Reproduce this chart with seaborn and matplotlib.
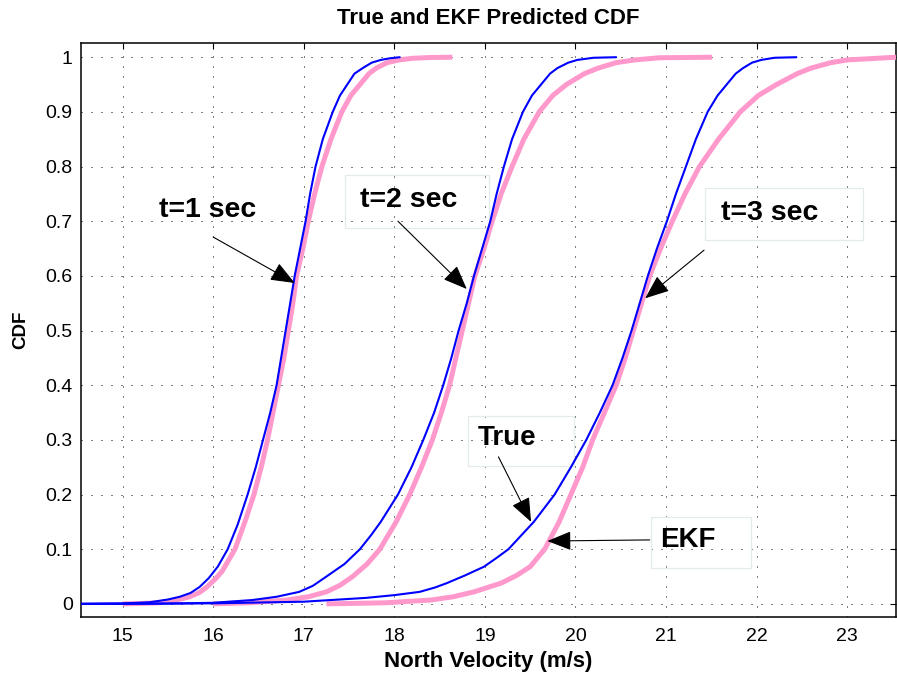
import numpy as np
import pandas as pd
import matplotlib
matplotlib.use("Agg")
import matplotlib.pyplot as plt
from matplotlib.patches import Rectangle
import seaborn as sns

# ---------------- data ----------------
true_t1_v = [14.54, 15.0, 15.3, 15.5, 15.63, 15.75, 15.85, 15.95, 16.05, 16.16, 16.27, 16.38,
             16.47, 16.55, 16.63, 16.70, 16.75, 16.80, 16.85, 16.90, 16.96, 17.02, 17.07,
             17.13, 17.21, 17.32, 17.40, 17.48, 17.56, 17.65, 17.75, 17.85, 17.95, 18.06]
true_t1_cdf = [0.0, 0.0008, 0.003, 0.008, 0.013, 0.02, 0.031, 0.047, 0.068, 0.10, 0.145, 0.20,
               0.25, 0.30, 0.35, 0.40, 0.45, 0.50, 0.55, 0.60, 0.65, 0.70, 0.75,
               0.80, 0.85, 0.90, 0.93, 0.95, 0.97, 0.98, 0.99, 0.995, 0.998, 1.0]

ekf_t1_v = [15.0, 15.2, 15.4, 15.6, 15.74, 15.85, 15.93, 16.02, 16.10, 16.17, 16.24, 16.35,
            16.45, 16.53, 16.60, 16.66, 16.72, 16.78, 16.83, 16.88, 16.92, 16.99, 17.05,
            17.12, 17.20, 17.30, 17.42, 17.52, 17.62, 17.72, 17.80, 17.92, 18.05, 18.20,
            18.40, 18.64]
ekf_t1_cdf = [0.0, 0.0008, 0.002, 0.007, 0.013, 0.021, 0.031, 0.045, 0.06, 0.08, 0.10, 0.15,
              0.20, 0.25, 0.30, 0.35, 0.40, 0.45, 0.50, 0.55, 0.60, 0.65, 0.70,
              0.75, 0.80, 0.85, 0.90, 0.93, 0.95, 0.97, 0.98, 0.99, 0.995, 0.998,
              0.9995, 1.0]

true_t2_v = [14.54, 15.5, 16.0, 16.43, 16.7, 16.95, 17.1, 17.25, 17.45, 17.62, 17.74, 17.85,
             18.04, 18.19, 18.32, 18.44, 18.54, 18.63, 18.71, 18.80, 18.88, 18.97, 19.06,
             19.13, 19.21, 19.30, 19.42, 19.52, 19.62, 19.72, 19.80, 19.92, 20.02, 20.2, 20.45]
true_t2_cdf = [0.0, 0.0005, 0.002, 0.007, 0.013, 0.022, 0.033, 0.05, 0.073, 0.10, 0.125, 0.15,
               0.20, 0.25, 0.30, 0.35, 0.40, 0.45, 0.50, 0.55, 0.60, 0.65, 0.70,
               0.75, 0.80, 0.85, 0.90, 0.93, 0.95, 0.97, 0.98, 0.99, 0.995, 0.999, 1.0]

ekf_t2_v = [16.0, 16.4, 16.81, 17.05, 17.25, 17.40, 17.54, 17.70, 17.84, 18.02, 18.17, 18.30,
            18.42, 18.52, 18.61, 18.68, 18.75, 18.82, 18.89, 18.99, 19.08, 19.18, 19.30,
            19.43, 19.60, 19.75, 19.90, 20.10, 20.25, 20.45, 20.65, 20.93, 21.51]
ekf_t2_cdf = [0.0, 0.002, 0.007, 0.013, 0.022, 0.034, 0.05, 0.073, 0.10, 0.15, 0.20, 0.25,
              0.30, 0.35, 0.40, 0.45, 0.50, 0.55, 0.60, 0.65, 0.70, 0.75, 0.80,
              0.85, 0.90, 0.93, 0.95, 0.97, 0.98, 0.99, 0.995, 0.999, 1.0]

true_t3_v = [14.54, 16.0, 17.0, 17.69, 18.0, 18.28, 18.45, 18.58, 18.78, 18.99, 19.12, 19.26,
             19.54, 19.77, 19.95, 20.12, 20.27, 20.41, 20.52, 20.62, 20.71, 20.80, 20.90,
             21.01, 21.11, 21.22, 21.33, 21.46, 21.57, 21.67, 21.77, 21.85, 21.95, 22.05,
             22.2, 22.44]
true_t3_cdf = [0.0, 0.001, 0.004, 0.011, 0.016, 0.022, 0.030, 0.038, 0.052, 0.068, 0.083, 0.10,
               0.15, 0.20, 0.25, 0.30, 0.35, 0.40, 0.45, 0.50, 0.55, 0.60, 0.65,
               0.70, 0.75, 0.80, 0.85, 0.90, 0.93, 0.95, 0.97, 0.98, 0.99, 0.995,
               0.999, 1.0]

ekf_t3_v = [17.25, 17.9, 18.4, 18.65, 18.88, 19.18, 19.35, 19.50, 19.66, 19.82, 19.95, 20.08,
            20.19, 20.32, 20.45, 20.55, 20.64, 20.73, 20.82, 20.94, 21.07, 21.21, 21.37,
            21.58, 21.82, 22.02, 22.22, 22.45, 22.6, 22.82, 23.0, 23.54]
ekf_t3_cdf = [0.0, 0.002, 0.007, 0.013, 0.022, 0.038, 0.052, 0.068, 0.10, 0.15, 0.20, 0.25,
              0.30, 0.35, 0.40, 0.45, 0.50, 0.55, 0.60, 0.65, 0.70, 0.75, 0.80,
              0.85, 0.90, 0.93, 0.95, 0.97, 0.98, 0.99, 0.995, 1.0]

x_ticks = [15, 16, 17, 18, 19, 20, 21, 22, 23]
y_ticks = [0, 0.1, 0.2, 0.3, 0.4, 0.5, 0.6, 0.7, 0.8, 0.9, 1.0]
y_tick_labels = ["0", "0.1", "0.2", "0.3", "0.4", "0.5", "0.6", "0.7", "0.8", "0.9", "1"]

title = "True and EKF Predicted CDF"
x_label = "North Velocity (m/s)"
y_label = "CDF"

# annotations: text, text position, arrow tail, arrow tip
annotations = [
    ("t=1 sec", (15.94, 0.721), (16.00, 0.671), (16.90, 0.587)),
    ("t=2 sec", (18.16, 0.739), (18.04, 0.700), (18.80, 0.576)),
    ("t=3 sec", (22.14, 0.715), (21.42, 0.647), (20.77, 0.559)),
    ("True",    (19.24, 0.303), (19.15, 0.269), (19.51, 0.150)),
    ("EKF",     (21.24, 0.117), (20.82, 0.117), (19.69, 0.115)),
]
# faint text boxes (x0, x1, y0, y1)
text_boxes = [
    (17.45, 19.05, 0.687, 0.784),
    (21.43, 23.18, 0.665, 0.760),
    (18.81, 19.98, 0.252, 0.344),
    (20.83, 21.94, 0.066, 0.159),
]

# ---------------- styling ----------------
sns.set_theme(style="white")
plt.rcParams["font.family"] = ["Liberation Sans", "DejaVu Sans"]
plt.rcParams["text.color"] = "black"
plt.rcParams["axes.labelcolor"] = "black"
plt.rcParams["xtick.color"] = "black"
plt.rcParams["ytick.color"] = "black"
plt.rcParams["axes.edgecolor"] = "black"
plt.rcParams["axes.linewidth"] = 1.1

blue = "#0000ff"
pink = "#ff99cc"

fig = plt.figure(figsize=(8.97, 6.81), dpi=100)
ax = fig.add_axes([81 / 897, 1 - 617 / 681, (896 - 81) / 897, (617 - 43) / 681])

curves = [
    ("ekf", ekf_t1_v, ekf_t1_cdf), ("ekf", ekf_t2_v, ekf_t2_cdf), ("ekf", ekf_t3_v, ekf_t3_cdf),
    ("true", true_t1_v, true_t1_cdf), ("true", true_t2_v, true_t2_cdf), ("true", true_t3_v, true_t3_cdf),
]
for kind, v, c in curves:
    df = pd.DataFrame({"v": v, "cdf": c})
    if kind == "ekf":
        sns.lineplot(data=df, x="v", y="cdf", ax=ax, color=pink, lw=3.6, sort=False,
                     estimator=None, solid_capstyle="butt", solid_joinstyle="round", zorder=3)
    else:
        sns.lineplot(data=df, x="v", y="cdf", ax=ax, color=blue, lw=1.5, sort=False,
                     estimator=None, solid_joinstyle="round", zorder=4)

ax.set_xlim(14.54, 23.54)
ax.set_ylim(-0.024, 1.026)
ax.set_xticks(x_ticks)
ax.set_xticklabels([str(t) for t in x_ticks])
ax.set_yticks(y_ticks)
ax.set_yticklabels(y_tick_labels)

ax.grid(True, color="black", linestyle=(0, (1, 9)), linewidth=0.72)
ax.tick_params(direction="in", length=4.5, width=0.8, top=True, right=True,
               labelsize=14, colors="black", pad=8)
ax.tick_params(axis="y", pad=6)
for s in ax.spines.values():
    s.set_visible(True)
    s.set_color("black")
    s.set_linewidth(1.1)

ax.set_title(title, fontsize=16, fontweight="bold", pad=14)
ax.set_xlabel(x_label, fontsize=16, fontweight="bold", labelpad=4)
ax.set_ylabel(y_label, fontsize=13.5, fontweight="bold", labelpad=12)

for (x0, x1, y0, y1) in text_boxes:
    ax.add_patch(Rectangle((x0, y0), x1 - x0, y1 - y0, fill=False, ec="#e3ebeb",
                           lw=0.9, zorder=2))

for txt, tpos, tail, tip in annotations:
    size = 20.5 if txt.startswith("t=") else 20
    ax.text(tpos[0], tpos[1], txt, fontsize=size, fontweight="bold", ha="center",
            va="center", zorder=6)
    ax.annotate("", xy=tip, xytext=tail,
                arrowprops=dict(arrowstyle="-|>,head_length=0.75,head_width=0.3",
                                mutation_scale=20, color="black", lw=0.8,
                                shrinkA=0, shrinkB=0),
                zorder=6)

fig.savefig("out.png", dpi=100)
